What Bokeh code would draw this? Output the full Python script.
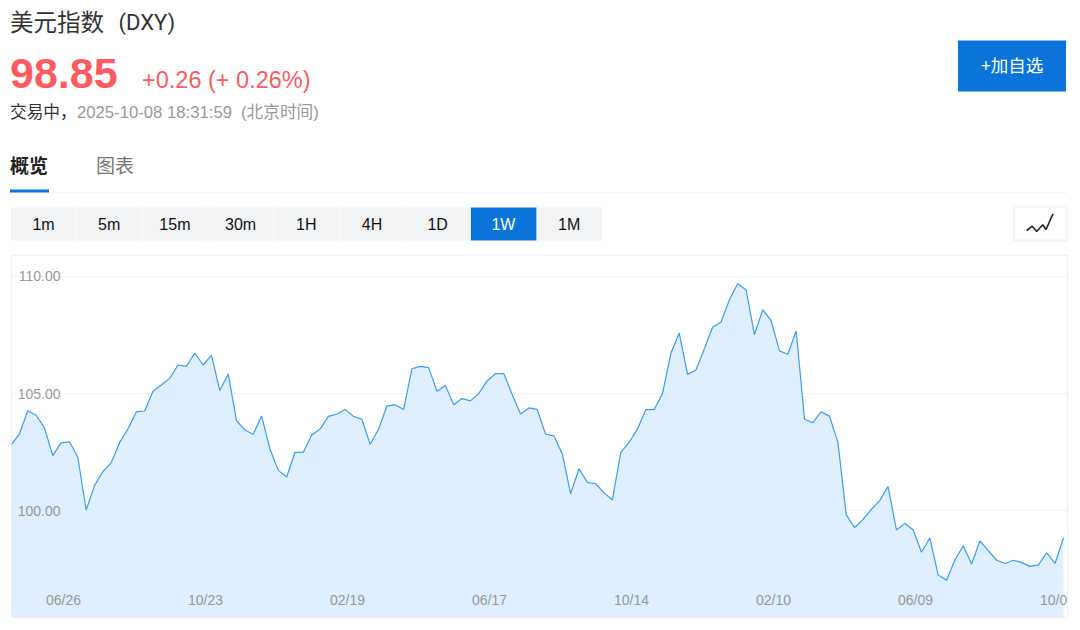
from bokeh.plotting import figure
from bokeh.layouts import column
from bokeh.models import FixedTicker, Range1d
from bokeh.core.properties import value
from bokeh.embed import file_html
from bokeh.resources import INLINE

dxy = [102.81,103.27,104.27,104.08,103.55,102.36,102.90,102.95,102.29,100.04,
       101.08,101.68,102.06,102.91,103.49,104.22,104.26,105.10,105.37,105.65,
       106.22,106.16,106.73,106.22,106.63,105.13,105.84,103.85,103.45,103.27,
       104.05,102.64,101.73,101.45,102.50,102.50,103.24,103.49,104.03,104.12,
       104.33,104.03,103.92,102.84,103.48,104.47,104.53,104.32,106.06,106.16,
       106.11,105.10,105.35,104.53,104.79,104.69,105.00,105.54,105.85,105.85,
       104.96,104.13,104.39,104.33,103.27,103.20,102.43,100.74,101.80,101.22,
       101.16,100.77,100.47,102.50,102.93,103.49,104.32,104.32,105.01,106.72,
       107.58,105.82,106.01,106.90,107.84,108.04,108.99,109.69,109.42,107.51,
       108.58,108.11,106.82,106.68,107.67,103.91,103.76,104.23,104.03,102.91,
       99.83,99.29,99.64,100.07,100.44,101.04,99.19,99.47,99.20,98.24,
       98.85,97.27,97.05,97.91,98.52,97.74,98.72,98.31,97.90,97.76,
       97.90,97.80,97.64,97.70,98.21,97.77,98.85]
weeks = list(range(len(dxy)))
y_ticks = [100, 105, 110]
y_tick_labels = ["100.00", "105.00", "110.00"]
x_tick_weeks = [7, 24, 41, 58, 75, 92, 109, 126]
x_tick_labels = ["06/26", "10/23", "02/19", "06/17", "10/14", "02/10", "06/09", "10/0"]
periods = ["1m", "5m", "15m", "30m", "1H", "4H", "1D", "1W", "1M"]
title = "美元指数"
ticker = "(DXY)"
price = "98.85"
change = "+0.26 (+ 0.26%)"
status = "交易中，"
stamp = "2025-10-08 18:31:59"
zone = "(北京时间)"
tabs = ["概览", "图表"]
action = "+加自选"

FONT = "Liberation Sans, Noto Sans CJK SC"
BLUE = "#0a74da"
RED = "#ff5a5f"
PX_PER_WEEK = 8.353

# ---------- page chrome, in page pixels ----------
head = figure(width=1072, height=255, x_range=Range1d(0.5, 1072.5), y_range=Range1d(255, 0),
              output_backend="svg", toolbar_location=None, frame_align=False,
              min_border=0, min_border_left=0, min_border_right=0, min_border_top=0, min_border_bottom=0,
              outline_line_color=None, background_fill_color="white")
head.axis.visible = False
head.grid.visible = False

def label(x, y, txt, size, color, align="left", style="normal", font=FONT):
    head.text([x], [y], text=[txt], text_font=value(font), text_font_size=f"{size}px",
              text_color=color, text_align=align, text_baseline="middle", text_font_style=style)

label(10, 22, title, 23.5, "#333333")
label(118.5, 22, ticker, 22, "#333333", font="Roboto")
label(10, 73, price, 43, RED, style="bold")
label(142, 79.5, change, 23.5, RED)
label(10, 112, status, 16.7, "#333333")
label(77, 112, stamp, 16.7, "#999999")
label(241, 112, zone, 16.7, "#999999")
label(10, 166, tabs[0], 19, "#222222", style="bold")
label(96, 166, tabs[1], 19, "#777777")

head.quad(left=[10], right=[1066], top=[192], bottom=[193], fill_color="#eeeff2", line_color=None)
head.quad(left=[10], right=[49], top=[189], bottom=[192], fill_color=BLUE, line_color=None)
head.quad(left=[958], right=[1066], top=[40], bottom=[91], fill_color=BLUE, line_color=None)
label(1012, 65, action, 17.5, "white", align="center")

for i, name in enumerate(periods):
    left = 11 + i * 65.7
    active = name == "1W"
    head.quad(left=[left], right=[left + 65.7 - (0 if active else 0.4)], top=[207], bottom=[240],
              fill_color=BLUE if active else "#f2f3f5", line_color=None)
    label(left + 32.5, 223.5, name, 16, "white" if active else "#111111", align="center")

head.quad(left=[1013], right=[1068], top=[205], bottom=[242], fill_color="#e8eaee", fill_alpha=0.25, line_color=None)
head.quad(left=[1014], right=[1067], top=[206], bottom=[241], fill_color="#e8eaee", fill_alpha=0.45, line_color=None)
head.quad(left=[1015], right=[1066], top=[207], bottom=[239], fill_color="white", line_color=None)
head.line([1026.7, 1032.3, 1036.7, 1042.7, 1046, 1053], [230, 225.7, 231, 224.3, 229, 213.3],
          line_color="#222222", line_width=1.6)

# ---------- chart ----------
y_low = 95.46
p = figure(width=1072, height=363, frame_width=1056, frame_height=362,
           x_range=Range1d(0.06, 0.06 + 1056 / PX_PER_WEEK), y_range=Range1d(y_low, 110.886),
           output_backend="svg", toolbar_location=None, frame_align=False,
           min_border_left=11, min_border_right=5, min_border_top=0, min_border_bottom=1,
           outline_line_color="#f0f1f3", background_fill_color="white")
p.varea(x=weeks, y1=dxy, y2=y_low, fill_color="#dfefff")
p.line(x=weeks, y=dxy, line_color="#3b9cf3", line_width=1.2)

p.xgrid.visible = False
p.xaxis.visible = False
p.ygrid.ticker = FixedTicker(ticks=y_ticks)
p.ygrid.grid_line_color = "#f0f1f3"

ax = p.yaxis[0]
ax.axis_line_color = None
ax.major_tick_line_color = None
ax.minor_tick_line_color = None
ax.major_tick_out = 0
ax.major_tick_in = 0
ax.minor_tick_out = 0
ax.major_label_text_color = "#999999"
ax.major_label_text_font = FONT
ax.major_label_text_font_size = "14px"
ax.ticker = FixedTicker(ticks=y_ticks)
ax.major_label_overrides = dict(zip(y_ticks, y_tick_labels))
ax.major_label_standoff = -49

# date labels sit inside the plot, starting a fixed distance left of their week
p.text(x=x_tick_weeks, y=[y_low] * len(x_tick_weeks), text=x_tick_labels,
       text_font=value(FONT), text_font_size="14px", text_color="#999999",
       text_align="left", text_baseline="middle", x_offset=-23.5, y_offset=-17.5)

page = column(head, p, spacing=0)
open("out.html", "w").write(file_html(page, INLINE))
